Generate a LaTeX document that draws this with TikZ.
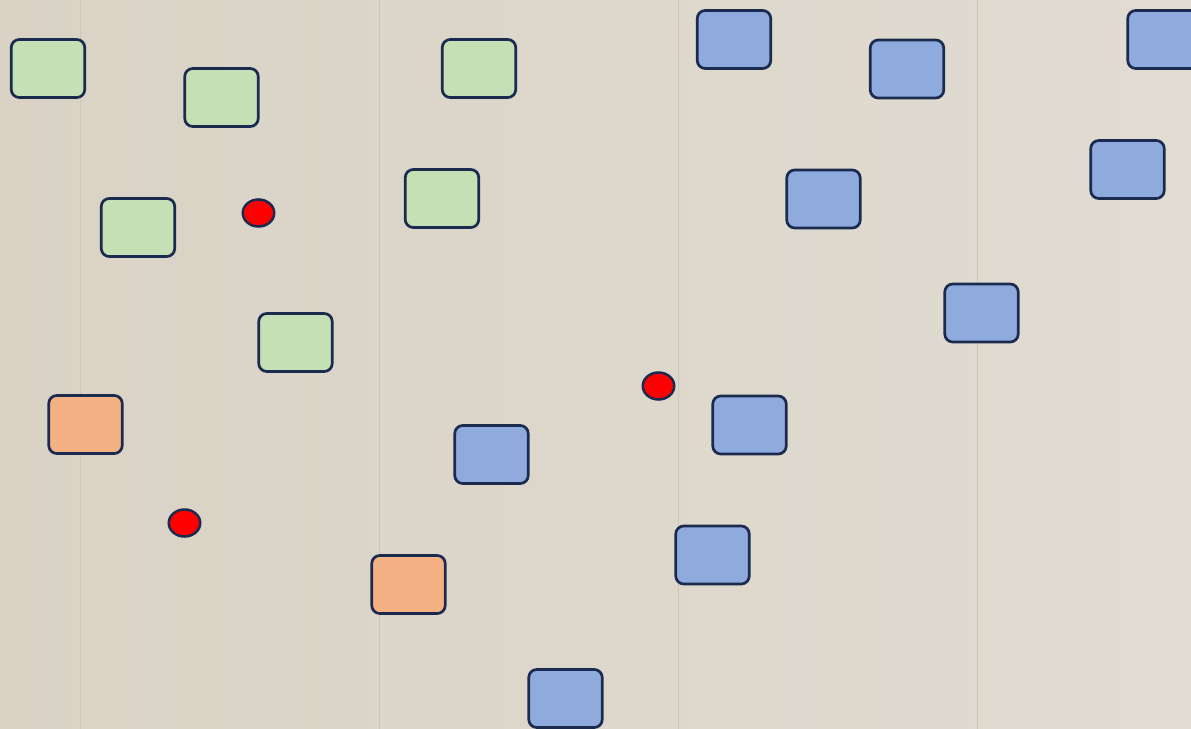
\documentclass[tikz,border=0pt]{standalone}
\usetikzlibrary{shapes.geometric}
\definecolor{bgl}{HTML}{D9D2C5}
\definecolor{bgr}{HTML}{E1DCD2}
\definecolor{gridc}{HTML}{CCC5B9}
\definecolor{edge}{HTML}{1B2B4F}
\definecolor{gfill}{HTML}{C5E0B4}
\definecolor{bfill}{HTML}{8FAADC}
\definecolor{ofill}{HTML}{F4B183}
\tikzset{
  card/.style={draw=edge, line width=2.7pt, rounded corners=8pt, minimum width=73.5pt, minimum height=58pt, inner sep=0pt},
  gcard/.style={card, fill=gfill},
  bcard/.style={card, fill=bfill},
  ocard/.style={card, fill=ofill},
  dot/.style={ellipse, draw=edge, line width=2.5pt, fill=red, minimum width=31.5pt, minimum height=27pt, inner sep=0pt},
  guide/.style={draw=gridc, line width=0.8pt}
}
\begin{document}
\begin{tikzpicture}[x=1pt,y=-1pt]
\useasboundingbox (0,0) rectangle (1191,728);
\shade[left color=bgl, right color=bgr] (-3,-3) rectangle (1194,731);
\foreach \gx in {80,379,678,977} \draw[guide] (\gx,-3) -- (\gx,731);
% green
\node[gcard] (g1) at (48,68.5) {};
\node[gcard] (g2) at (221.5,97.5) {};
\node[gcard] (g3) at (479,68.5) {};
\node[gcard] (g4) at (138,227.5) {};
\node[gcard] (g5) at (442,198.5) {};
\node[gcard] (g6) at (295.5,342.5) {};
% blue
\node[bcard] (b1) at (734,39.5) {};
\node[bcard] (b2) at (907,69) {};
\node[bcard] (b3) at (1164.5,39.5) {};
\node[bcard] (b4) at (1127.5,169.5) {};
\node[bcard] (b5) at (823.5,199) {};
\node[bcard] (b6) at (981.5,313) {};
\node[bcard] (b7) at (749.5,425) {};
\node[bcard] (b8) at (491.5,454.5) {};
\node[bcard] (b9) at (712.5,555) {};
\node[bcard] (b10) at (565.5,698.5) {};
% orange
\node[ocard] (o1) at (85.5,424.5) {};
\node[ocard] (o2) at (408.5,584.5) {};
% red dots
\node[dot] (r1) at (258.5,213) {};
\node[dot] (r2) at (658.5,386) {};
\node[dot] (r3) at (184.5,523) {};
\end{tikzpicture}
\end{document}
